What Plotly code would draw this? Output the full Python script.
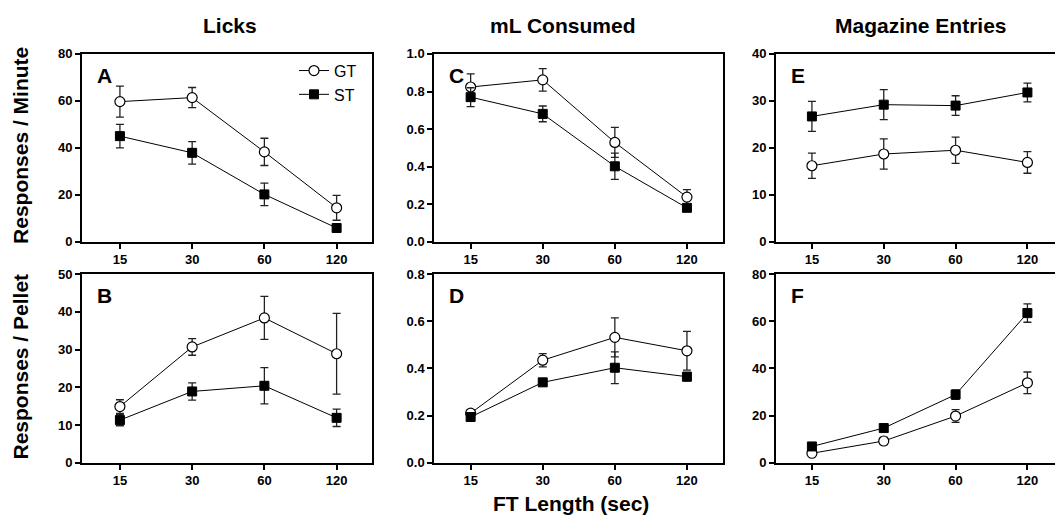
import plotly.graph_objects as go

# ---------------- data ----------------
ft_labels = ["15", "30", "60", "120"]

licks_min_gt = [59.7, 61.4, 38.3, 14.5]
licks_min_gt_err = [6.6, 4.3, 5.8, 5.3]
licks_min_st = [45.0, 37.9, 20.2, 5.9]
licks_min_st_err = [5.0, 4.8, 4.8, 1.0]

licks_pel_gt = [14.9, 30.7, 38.4, 28.9]
licks_pel_gt_err = [1.8, 2.2, 5.7, 10.7]
licks_pel_st = [11.3, 18.9, 20.4, 11.9]
licks_pel_st_err = [1.5, 2.3, 4.8, 2.3]

ml_min_gt = [0.824, 0.862, 0.529, 0.238]
ml_min_gt_err = [0.07, 0.06, 0.08, 0.04]
ml_min_st = [0.770, 0.681, 0.402, 0.181]
ml_min_st_err = [0.05, 0.042, 0.07, 0.01]

ml_pel_gt = [0.210, 0.435, 0.532, 0.475]
ml_pel_gt_err = [0.015, 0.028, 0.083, 0.082]
ml_pel_st = [0.194, 0.341, 0.403, 0.365]
ml_pel_st_err = [0.01, 0.015, 0.067, 0.018]

mag_min_gt = [16.2, 18.7, 19.5, 16.9]
mag_min_gt_err = [2.7, 3.2, 2.8, 2.3]
mag_min_st = [26.7, 29.2, 29.0, 31.8]
mag_min_st_err = [3.2, 3.2, 2.1, 2.0]

mag_pel_gt = [4.0, 9.2, 19.8, 33.9]
mag_pel_gt_err = [0.8, 1.5, 2.7, 4.6]
mag_pel_st = [6.9, 14.7, 28.9, 63.5]
mag_pel_st_err = [1.0, 1.0, 2.0, 3.9]

column_titles = ["Licks", "mL Consumed", "Magazine Entries"]
row_titles = ["Responses / Minute", "Responses / Pellet"]
panel_letters = ["A", "B", "C", "D", "E", "F"]
x_title = "FT Length (sec)"

# y axes: (max, step, format)
y_specs = {
    "A": (80, 20, ""), "B": (50, 10, ""),
    "C": (1.0, 0.2, ".1f"), "D": (0.8, 0.2, ".1f"),
    "E": (40, 10, ""), "F": (80, 20, ""),
}

# ---------------- layout geometry (pixels) ----------------
W, H = 1055, 529
col_px = {0: (82, 372), 1: (434.3, 723), 2: (776, 1055)}
col_xrange = {0: [-0.525, 3.49], 1: [-0.504, 3.50], 2: [-0.50, 3.384]}
row_px = {0: (48.3, 241.7), 1: (275, 469)}

panels = [
    ("A", 0, 0, licks_min_gt, licks_min_gt_err, licks_min_st, licks_min_st_err),
    ("B", 0, 1, licks_pel_gt, licks_pel_gt_err, licks_pel_st, licks_pel_st_err),
    ("C", 1, 0, ml_min_gt, ml_min_gt_err, ml_min_st, ml_min_st_err),
    ("D", 1, 1, ml_pel_gt, ml_pel_gt_err, ml_pel_st, ml_pel_st_err),
    ("E", 2, 0, mag_min_gt, mag_min_gt_err, mag_min_st, mag_min_st_err),
    ("F", 2, 1, mag_pel_gt, mag_pel_gt_err, mag_pel_st, mag_pel_st_err),
]

FONT = "Liberation Sans, Arial, sans-serif"
fig = go.Figure()
layout = {}
annotations = []

for i, (letter, c, r, gt, gte, st, ste) in enumerate(panels):
    n = i + 1
    xa = "x" if n == 1 else f"x{n}"
    ya = "y" if n == 1 else f"y{n}"
    fig.add_trace(go.Scatter(
        x=ft_labels, y=gt, xaxis=xa, yaxis=ya, name="GT",
        mode="lines+markers", showlegend=(letter == "A"), legendgroup="GT",
        line=dict(color="black", width=1),
        marker=dict(symbol="circle", size=10, color="white",
                    line=dict(color="black", width=1.2)),
        error_y=dict(type="data", array=gte, visible=True,
                     color="#222", thickness=1.3, width=4),
    ))
    fig.add_trace(go.Scatter(
        x=ft_labels, y=st, xaxis=xa, yaxis=ya, name="ST",
        mode="lines+markers", showlegend=(letter == "A"), legendgroup="ST",
        line=dict(color="black", width=1),
        marker=dict(symbol="square", size=9, color="black",
                    line=dict(color="black", width=1)),
        error_y=dict(type="data", array=ste, visible=True,
                     color="#222", thickness=1.3, width=4),
    ))
    x0, x1 = col_px[c]
    y0, y1 = row_px[r]
    ymax, ystep, yfmt = y_specs[letter]
    nt = int(round(ymax / ystep))
    tickvals = [round(k * ystep, 4) for k in range(nt + 1)]
    if yfmt:
        ticktext = [format(v, yfmt) for v in tickvals]
    else:
        ticktext = [str(int(v)) for v in tickvals]
    xkey = "xaxis" if n == 1 else f"xaxis{n}"
    ykey = "yaxis" if n == 1 else f"yaxis{n}"
    layout[xkey] = dict(
        domain=[x0 / W, min(x1 / W, 1.0)], anchor=ya, type="category",
        range=col_xrange[c], showgrid=False, zeroline=False,
        showline=True, linecolor="black", linewidth=2, mirror=True,
        ticks="outside", ticklen=5, tickwidth=2, tickcolor="black",
        tickfont=dict(family=FONT, size=13, color="black", weight="bold"),
        fixedrange=True,
    )
    layout[ykey] = dict(
        domain=[1 - y1 / H, 1 - y0 / H], anchor=xa,
        range=[0, ymax], showgrid=False, zeroline=False,
        showline=True, linecolor="black", linewidth=2,
        mirror=(c != 2),
        ticks="outside", ticklen=5, tickwidth=2, tickcolor="black",
        tickvals=tickvals, ticktext=ticktext,
        tickfont=dict(family=FONT, size=13, color="black", weight="bold"),
        fixedrange=True,
    )
    # panel letter
    annotations.append(dict(
        text=letter, x=(x0 + 13) / W, y=1 - (y0 + 22) / H,
        xref="paper", yref="paper", xanchor="left", yanchor="middle",
        showarrow=False,
        font=dict(family=FONT, size=21, color="black", weight="bold"),
    ))

# column titles
col_title_x = [230, 562, 921]
for t, cx in zip(column_titles, col_title_x):
    annotations.append(dict(
        text=t, x=cx / W, y=1 - 19 / H, xref="paper", yref="paper",
        xanchor="center", yanchor="middle", showarrow=False,
        font=dict(family=FONT, size=21, color="black", weight="bold"),
    ))
# row titles
for t, cy in zip(row_titles, [143, 370]):
    annotations.append(dict(
        text=t, x=21 / W, y=1 - cy / H, xref="paper", yref="paper",
        xanchor="center", yanchor="middle", showarrow=False, textangle=-90,
        font=dict(family=FONT, size=21, color="black", weight="bold"),
    ))
# x title
annotations.append(dict(
    text=x_title, x=571 / W, y=1 - 511 / H, xref="paper", yref="paper",
    xanchor="center", yanchor="middle", showarrow=False,
    font=dict(family=FONT, size=21, color="black", weight="bold"),
))

fig.update_layout(
    **layout,
    annotations=annotations,
    width=W, height=H,
    margin=dict(l=0, r=0, t=0, b=0),
    paper_bgcolor="white", plot_bgcolor="white",
    showlegend=True,
    legend=dict(
        x=294 / W, y=1 - 48 / H, xanchor="left", yanchor="top",
        bgcolor="rgba(0,0,0,0)", borderwidth=0,
        font=dict(family=FONT, size=16, color="black"),
        tracegroupgap=0, itemwidth=30,
    ),
)

fig.write_html("out.html")
